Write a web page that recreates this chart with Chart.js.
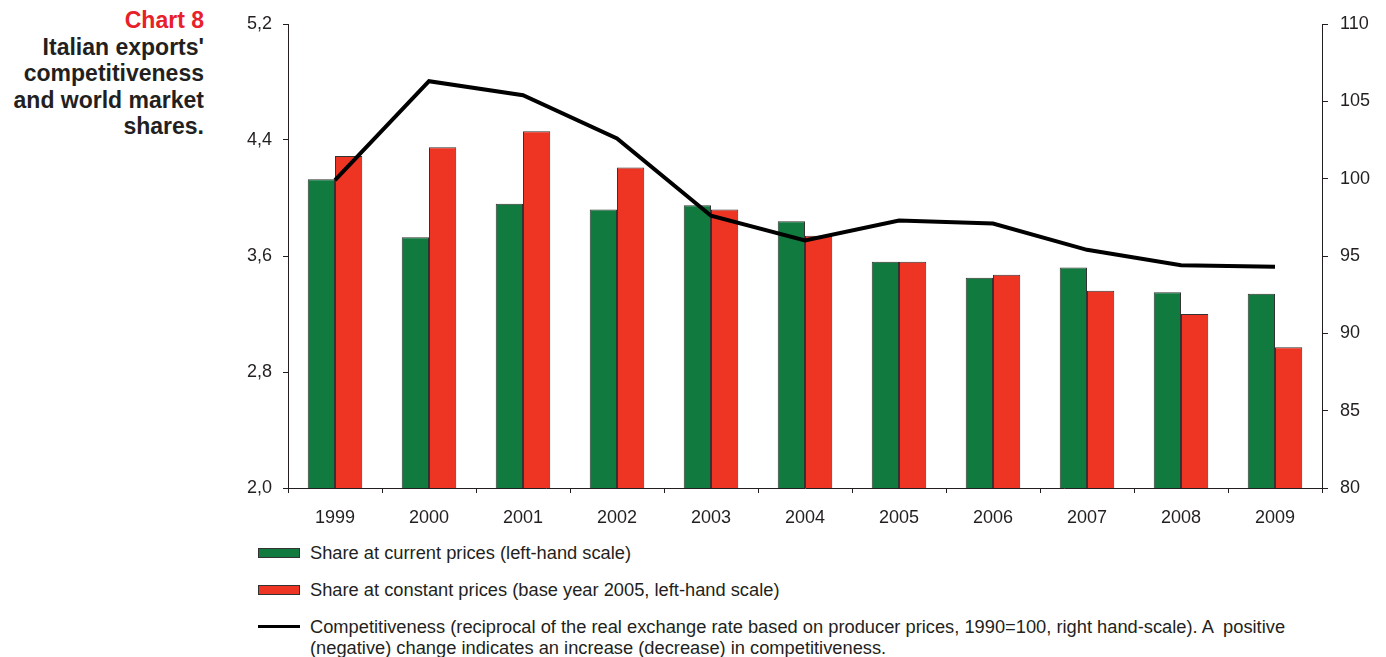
<!DOCTYPE html>
<html>
<head>
<meta charset="utf-8">
<script src="https://cdn.jsdelivr.net/npm/chart.js@4/dist/chart.umd.min.js"></script>
<style>
  body { margin: 0; background: #fff; font-family: "Liberation Sans", Arial, sans-serif; color: #231f20; }
  #titolo { position: absolute; right: 1182px; top: 7px; text-align: right; font-weight: bold; font-size: 23px; line-height: 26.5px; }
  #titolo .rosso { color: #e8202a; }
  #box { position: absolute; left: 0; top: 0; width: 1386px; height: 540px; }
  #legenda { position: absolute; left: 258px; top: 542px; width: 1100px; font-size: 18.3px; line-height: 21px; }
  .voce { position: relative; padding-left: 52px; margin-bottom: 16px; }
  .voce .sw { position: absolute; left: 0; top: 6px; width: 42px; height: 10px; border: 1px solid #333; box-sizing: border-box; }
  .voce .ln { position: absolute; left: 0; top: 9px; width: 42px; height: 3px; background: #000; }
</style>
</head>
<body>
<div id="titolo"><span class="rosso">Chart 8</span><br>Italian exports'<br>competitiveness<br>and world market<br>shares.</div>
<div id="box"><canvas id="grafico"></canvas></div>
<div id="legenda">
  <div class="voce"><span class="sw" style="background:#117a3e"></span>Share at current prices (left-hand scale)</div>
  <div class="voce"><span class="sw" style="background:#ee3524"></span>Share at constant prices (base year 2005, left-hand scale)</div>
  <div class="voce"><span class="ln"></span>Competitiveness (reciprocal of the real exchange rate based on producer prices, 1990=100, right hand-scale). A &nbsp;positive<br>(negative) change indicates an increase (decrease) in competitiveness.</div>
</div>
<script>
var anni = ["1999", "2000", "2001", "2002", "2003", "2004", "2005", "2006", "2007", "2008", "2009"];
var quotaCorrenti = [4.13, 3.73, 3.96, 3.92, 3.95, 3.84, 3.56, 3.45, 3.52, 3.35, 3.34];
var quotaCostanti = [4.29, 4.35, 4.46, 4.21, 3.92, 3.74, 3.56, 3.47, 3.36, 3.20, 2.97];
var competitivita = [99.9, 106.3, 105.4, 102.6, 97.6, 96.0, 97.3, 97.1, 95.4, 94.4, 94.3];

var colTesto = "#231f20";
var fonte = { family: "Liberation Sans", size: 18 };

const data = {
  labels: anni,
  datasets: [
    {
      type: "line",
      label: "Competitiveness",
      data: competitivita,
      yAxisID: "y1",
      borderColor: "#000",
      borderWidth: 4,
      pointRadius: 0,
      tension: 0,
      order: 0
    },
    {
      label: "Share at current prices",
      data: quotaCorrenti,
      yAxisID: "y",
      backgroundColor: "#117a3e",
      borderColor: "#333",
      borderWidth: 1,
      order: 1
    },
    {
      label: "Share at constant prices",
      data: quotaCostanti,
      yAxisID: "y",
      backgroundColor: "#ee3524",
      borderColor: "#333",
      borderWidth: 1,
      order: 1
    }
  ]
};

const config = {
  type: "bar",
  data,
  options: {
    responsive: true,
    maintainAspectRatio: false,
    animation: false,
    layout: { padding: { top: 24, left: 0, right: 0, bottom: 0 } },
    plugins: { legend: { display: false }, tooltip: { enabled: false } },
    datasets: { bar: { categoryPercentage: 0.58, barPercentage: 1 } },
    scales: {
      x: {
        grid: { drawOnChartArea: false, offset: true, tickLength: 5, color: colTesto },
        border: { color: colTesto, width: 1 },
        ticks: { color: colTesto, font: fonte, padding: 14 },
        afterFit: function (s) { s.height = 52; }
      },
      y: {
        position: "left",
        min: 2, max: 5.2,
        grid: { drawOnChartArea: false, tickLength: 5, color: colTesto },
        border: { color: colTesto, width: 1 },
        ticks: {
          stepSize: 0.8, color: colTesto, font: fonte, padding: 11,
          callback: function (v) { return v.toFixed(1).replace(".", ","); }
        },
        afterFit: function (s) { s.width = 288; }
      },
      y1: {
        position: "right",
        min: 80, max: 110,
        grid: { drawOnChartArea: false, tickLength: 6, color: colTesto },
        border: { color: colTesto, width: 1 },
        ticks: { stepSize: 5, color: colTesto, font: fonte, padding: 12 },
        afterFit: function (s) { s.width = 64; }
      }
    }
  }
};

var grafico = new Chart(document.getElementById("grafico"), config);
</script>
</body>
</html>
